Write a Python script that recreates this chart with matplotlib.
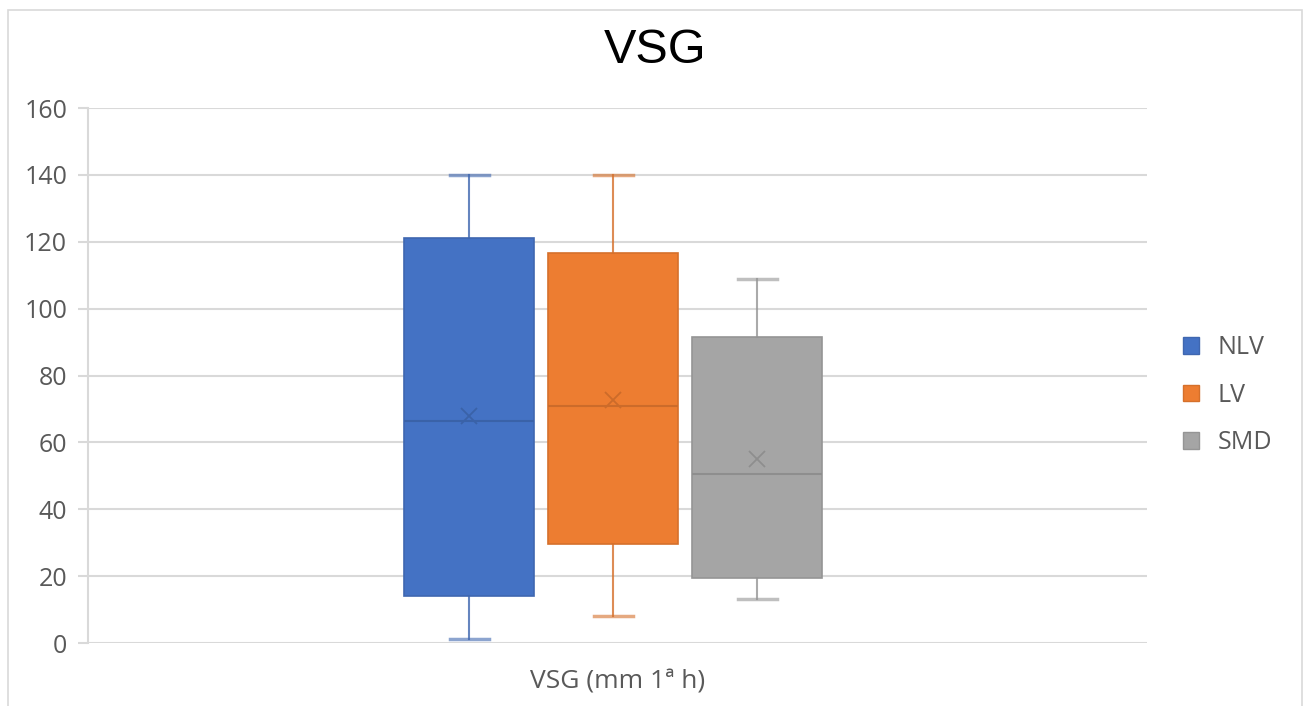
import matplotlib.pyplot as plt
from matplotlib.patches import Patch, Rectangle

# VSG values per group (mm 1st hour)
groups = ["NLV", "LV", "SMD"]
whisk_lo = [1.2, 8.1, 13.2]
q1 = [14.1, 29.6, 19.4]
medians = [66.4, 70.9, 50.5]
means = [67.9, 72.7, 55.0]
q3 = [121.1, 116.6, 91.5]
whisk_hi = [140.0, 140.0, 108.9]

fills = ["#4472C4", "#ED7D31", "#A5A5A5"]
edges = ["#3F67B0", "#D5702B", "#959595"]
meds = ["#3A62A8", "#CC6B2A", "#8E8E8E"]
txt = "#595959"
grid = "#D9D9D9"

plt.rcParams['font.family'] = ['Open Sans', 'DejaVu Sans']

fig = plt.figure(figsize=(13.11, 7.06), dpi=100)
ax = fig.add_axes([0.0671, 0.0892, 0.8078, 0.7578])

positions = [0.360, 0.496, 0.632]
for i, g in enumerate(groups):
    st = [dict(whislo=whisk_lo[i], q1=q1[i], med=medians[i], q3=q3[i],
               whishi=whisk_hi[i], mean=means[i], label=g)]
    ax.bxp(st, positions=[positions[i]], widths=0.123, showmeans=True,
           patch_artist=True, showfliers=False,
           boxprops=dict(facecolor=fills[i], edgecolor=edges[i], linewidth=1.2),
           whiskerprops=dict(color=edges[i], linewidth=1.5, alpha=0.8),
           capprops=dict(color=edges[i], linewidth=2.5, alpha=0.6),
           medianprops=dict(color=meds[i], linewidth=1.5),
           meanprops=dict(marker='x', markeredgecolor=meds[i], markersize=11,
                          markeredgewidth=1.3),
           capwidths=0.037, zorder=3)

ax.set_xlim(0, 1)
ax.set_ylim(0, 160)
ax.set_yticks(range(0, 161, 20))
ax.set_xticks([0.5])
ax.set_xticklabels(["VSG (mm 1ª h)"])
ax.yaxis.grid(True, color=grid, linewidth=1.5, zorder=0)
ax.set_axisbelow(True)
for s in ["top", "right", "bottom"]:
    ax.spines[s].set_visible(False)
ax.spines["left"].set_color(grid)
ax.spines["left"].set_linewidth(1.5)
ax.tick_params(axis='y', colors=txt, labelsize=18, length=7, width=1.5,
               color=grid, pad=8)
ax.tick_params(axis='x', colors=txt, labelsize=19, length=0, pad=19)

fig.text(0.4996, 0.929, "VSG", fontsize=35, color="black", ha="center",
         va="center", family=["Liberation Sans", "DejaVu Sans"])

handles = [Patch(facecolor=fills[i], edgecolor=edges[i], label=g)
           for i, g in enumerate(groups)]
fig.legend(handles=handles, loc="center left", bbox_to_anchor=(0.885, 0.44),
           frameon=False, fontsize=18, labelcolor=txt, handlelength=0.65,
           handleheight=0.65, handletextpad=0.75, labelspacing=0.9)

fig.patches.append(Rectangle((0.006, -0.01), 0.9875, 0.996, transform=fig.transFigure,
                             fill=False, edgecolor=grid, linewidth=1.2))

fig.savefig("out.png", dpi=100)
